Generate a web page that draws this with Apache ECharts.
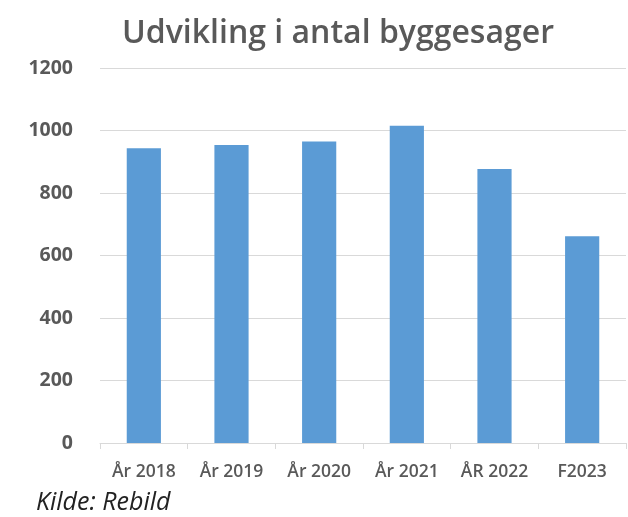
<!DOCTYPE html>
<html>
<head>
<meta charset="utf-8">
<script src="https://cdn.jsdelivr.net/npm/echarts@6/dist/echarts.min.js"></script>
<style>
  html, body { margin: 0; padding: 0; background: #fff; }
  #chart { width: 628px; height: 517px; }
</style>
</head>
<body>
<div id="chart"></div>
<script>
// data
const categories = ['År 2018', 'År 2019', 'År 2020', 'År 2021', 'ÅR 2022', 'F2023'];
const cases = [943, 954, 965, 1015, 877, 662];

const chart = echarts.init(document.getElementById('chart'));
const option = {
  backgroundColor: '#fff',
  animation: false,
  title: {
    text: 'Udvikling i antal byggesager',
    left: 333,
    textAlign: 'center',
    top: 13,
    textStyle: {
      fontFamily: 'Open Sans',
      fontSize: 32,
      fontWeight: 600,
      color: '#595959'
    }
  },
  graphic: [
    {
      type: 'text',
      left: 36,
      top: 490,
      style: {
        text: 'Kilde: Rebild',
        fontFamily: 'Open Sans',
        fontStyle: 'italic',
        fontSize: 25,
        fill: '#222'
      }
    }
  ],
  grid: {
    left: 100,
    right: 2,
    top: 68,
    bottom: 74
  },
  xAxis: {
    type: 'category',
    data: categories,
    axisLine: { show: true, lineStyle: { color: '#d9d9d9', width: 1 } },
    axisTick: { show: true, alignWithLabel: false, length: 6, lineStyle: { color: '#d9d9d9' } },
    axisLabel: {
      margin: 20,
      fontFamily: 'Open Sans',
      fontSize: 17.5,
      fontWeight: 600,
      color: '#595959'
    }
  },
  yAxis: {
    type: 'value',
    min: 0,
    max: 1200,
    interval: 200,
    axisLine: { show: false },
    axisTick: { show: false },
    splitLine: { lineStyle: { color: '#d9d9d9', width: 1 } },
    axisLabel: {
      margin: 27,
      formatter: (v) => String(v),
      fontFamily: 'Open Sans',
      fontSize: 19.5,
      fontWeight: 'bold',
      color: '#595959'
    }
  },
  series: [
    {
      type: 'bar',
      data: cases,
      barWidth: '39%',
      itemStyle: { color: '#5b9bd5' }
    }
  ]
};
chart.setOption(option);
</script>
</body>
</html>
